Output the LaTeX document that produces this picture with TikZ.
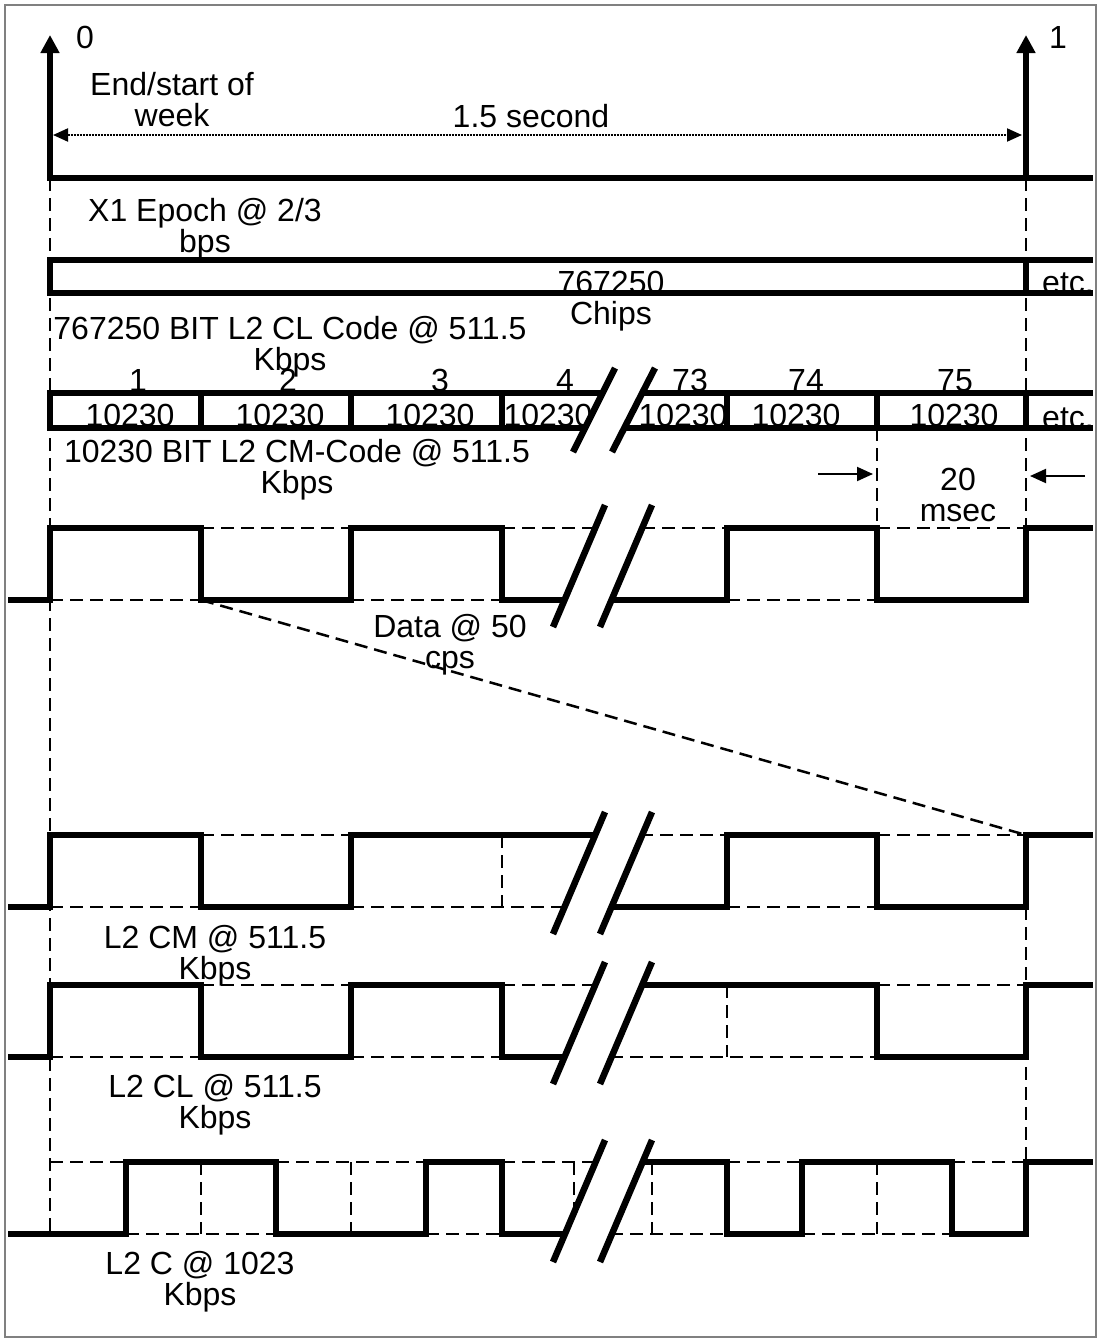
\documentclass[tikz,border=0pt]{standalone}
\usepackage{fontspec}
\setmainfont{Liberation Sans}
\usetikzlibrary{arrows.meta}

\begin{document}
\begin{tikzpicture}[x=1pt,y=-1pt,
  font=\fontsize{32}{30.5}\selectfont,
  sig/.style={line width=6.5pt},
  guide/.style={line width=2.5pt,dash pattern=on 13pt off 7pt},
  brk/.style={line width=6.5pt},
  lbl/.style={inner sep=0pt,anchor=base,align=center}]
\useasboundingbox (0,0) rectangle (1100,1341);
\draw[gray,line width=2pt] (5,5) rectangle (1096,1337);

% dashed guide lines
\draw[guide] (50,178) -- (50,1234);
\draw[guide] (1026,178) -- (1026,600);
\draw[guide] (1026,907) -- (1026,1234);
\draw[guide] (877,428) -- (877,528);
\draw[guide] (201,600) -- (1026,835);
% data
\draw[guide] (50,600) -- (201,600) (351,600) -- (502,600) (727,600) -- (877,600);
\draw[guide] (201,528) -- (351,528) (502,528) -- (727,528) (877,528) -- (1026,528);
% CM
\draw[guide] (50,907) -- (201,907) (351,907) -- (590,907) (727,907) -- (877,907);
\draw[guide] (201,835) -- (351,835) (620,835) -- (727,835) (877,835) -- (1026,835);
\draw[guide] (502,835) -- (502,907);
% CL
\draw[guide] (50,1057) -- (201,1057) (351,1057) -- (502,1057) (590,1057) -- (877,1057);
\draw[guide] (201,985) -- (351,985) (502,985) -- (620,985) (877,985) -- (1026,985);
\draw[guide] (727,985) -- (727,1057);
% C
\draw[guide] (126,1234) -- (276,1234) (426,1234) -- (502,1234) (590,1234) -- (727,1234) (802,1234) -- (952,1234);
\draw[guide] (50,1162) -- (126,1162) (276,1162) -- (426,1162) (502,1162) -- (620,1162) (727,1162) -- (802,1162) (952,1162) -- (1026,1162);
\draw[guide] (201,1162) -- (201,1234) (351,1162) -- (351,1234) (574,1162) -- (574,1234) (652,1162) -- (652,1234) (877,1162) -- (877,1234);

% week marks
\draw[sig,{Triangle[length=18pt,width=18pt]}-] (50,35) -- (50,178) -- (1093,178);
\draw[sig,-{Triangle[length=18pt,width=18pt]}] (1026,178) -- (1026,35);
\draw[line width=2pt,dash pattern=on 2pt off 1pt,{Triangle[length=15pt,width=13pt]}-{Triangle[length=15pt,width=13pt]}] (53,135) -- (1022,135);

% X1 epoch and chip rows
\draw[sig] (1093,260) -- (50,260) -- (50,293) -- (1093,293);
\draw[sig] (1026,260) -- (1026,293);
\draw[sig] (1093,393) -- (50,393) -- (50,428) -- (1093,428);
\draw[sig] (201,393) -- (201,428) (351,393) -- (351,428) (502,393) -- (502,428);
\draw[sig] (727,393) -- (727,428) (877,393) -- (877,428) (1026,393) -- (1026,428);

% waveforms
\draw[sig] (8,600) -- (50,600) -- (50,528) -- (201,528) -- (201,600) -- (351,600) -- (351,528) -- (502,528) -- (502,600) -- (727,600) -- (727,528) -- (877,528) -- (877,600) -- (1026,600) -- (1026,528) -- (1093,528);
\draw[sig] (8,907) -- (50,907) -- (50,835) -- (201,835) -- (201,907) -- (351,907) -- (351,835) -- (620,835);
\draw[sig] (590,907) -- (727,907) -- (727,835) -- (877,835) -- (877,907) -- (1026,907) -- (1026,835) -- (1093,835);
\draw[sig] (8,1057) -- (50,1057) -- (50,985) -- (201,985) -- (201,1057) -- (351,1057) -- (351,985) -- (502,985) -- (502,1057) -- (590,1057);
\draw[sig] (620,985) -- (877,985) -- (877,1057) -- (1026,1057) -- (1026,985) -- (1093,985);
\draw[sig] (8,1234) -- (126,1234) -- (126,1162) -- (276,1162) -- (276,1234) -- (426,1234) -- (426,1162) -- (502,1162) -- (502,1234) -- (590,1234);
\draw[sig] (620,1162) -- (727,1162) -- (727,1234) -- (802,1234) -- (802,1162) -- (952,1162) -- (952,1234) -- (1026,1234) -- (1026,1162) -- (1093,1162);

% 20 msec
\draw[line width=2pt,-{Triangle[length=16pt,width=14pt]}] (818,474) -- (873,474);
\draw[line width=2pt,-{Triangle[length=16pt,width=14pt]}] (1085,476) -- (1030,476);

% labels
\node[lbl] (zero) at (85,48) {0};
\node[lbl] (one) at (1058,48) {1};
\node[lbl] (week) at (172,126) {End/start of\\week};
\node[lbl] (span) at (531,127) {1.5 second};
\node[lbl] (epoch) at (205,252) {X1 Epoch @ 2/3\\bps};
\node[lbl] (chips) at (611,324) {767250\\Chips};
\node[lbl] (etca) at (1068,293) {etc.};
\node[lbl] (clcode) at (290,370) {767250 BIT L2 CL Code @ 511.5\\Kbps};
\node[lbl] (n1) at (138,391) {1};
\node[lbl] (n2) at (288,391) {2};
\node[lbl] (n3) at (440,391) {3};
\node[lbl] (n4) at (565,391) {4};
\node[lbl] (n73) at (690,391) {73};
\node[lbl] (n74) at (806,391) {74};
\node[lbl] (n75) at (955,391) {75};
\node[lbl] (c1) at (130,426) {10230};
\node[lbl] (c2) at (280,426) {10230};
\node[lbl] (c3) at (430,426) {10230};
\node[lbl] (c4) at (548,426) {10230};
\node[lbl] (c73) at (683,426) {10230};
\node[lbl] (c74) at (796,426) {10230};
\node[lbl] (c75) at (954,426) {10230};
\node[lbl] (etcb) at (1068,428) {etc.};
\node[lbl] (cmcode) at (297,493) {10230 BIT L2 CM-Code @ 511.5\\Kbps};
\node[lbl] (msec) at (958,521) {20\\msec};
\node[lbl] (data) at (450,668) {Data @ 50\\cps};
\node[lbl] (cm) at (215,979) {L2 CM @ 511.5\\Kbps};
\node[lbl] (cl) at (215,1128) {L2 CL @ 511.5\\Kbps};
\node[lbl] (cc) at (200,1305) {L2 C @ 1023\\Kbps};

% breaks
\fill[white] (615,368) -- (655,368) -- (612,452) -- (573,452) -- cycle;
\fill[white] (605,505) -- (652,505) -- (600,627) -- (553,627) -- cycle;
\fill[white] (605,812) -- (652,812) -- (600,934) -- (553,934) -- cycle;
\fill[white] (605,962) -- (652,962) -- (600,1084) -- (553,1084) -- cycle;
\fill[white] (605,1140) -- (652,1140) -- (600,1262) -- (553,1262) -- cycle;
\draw[brk] (615,368) -- (573,452) (655,368) -- (612,452);
\draw[brk] (605,505) -- (553,627) (652,505) -- (600,627);
\draw[brk] (605,812) -- (553,934) (652,812) -- (600,934);
\draw[brk] (605,962) -- (553,1084) (652,962) -- (600,1084);
\draw[brk] (605,1140) -- (553,1262) (652,1140) -- (600,1262);
\end{tikzpicture}
\end{document}
